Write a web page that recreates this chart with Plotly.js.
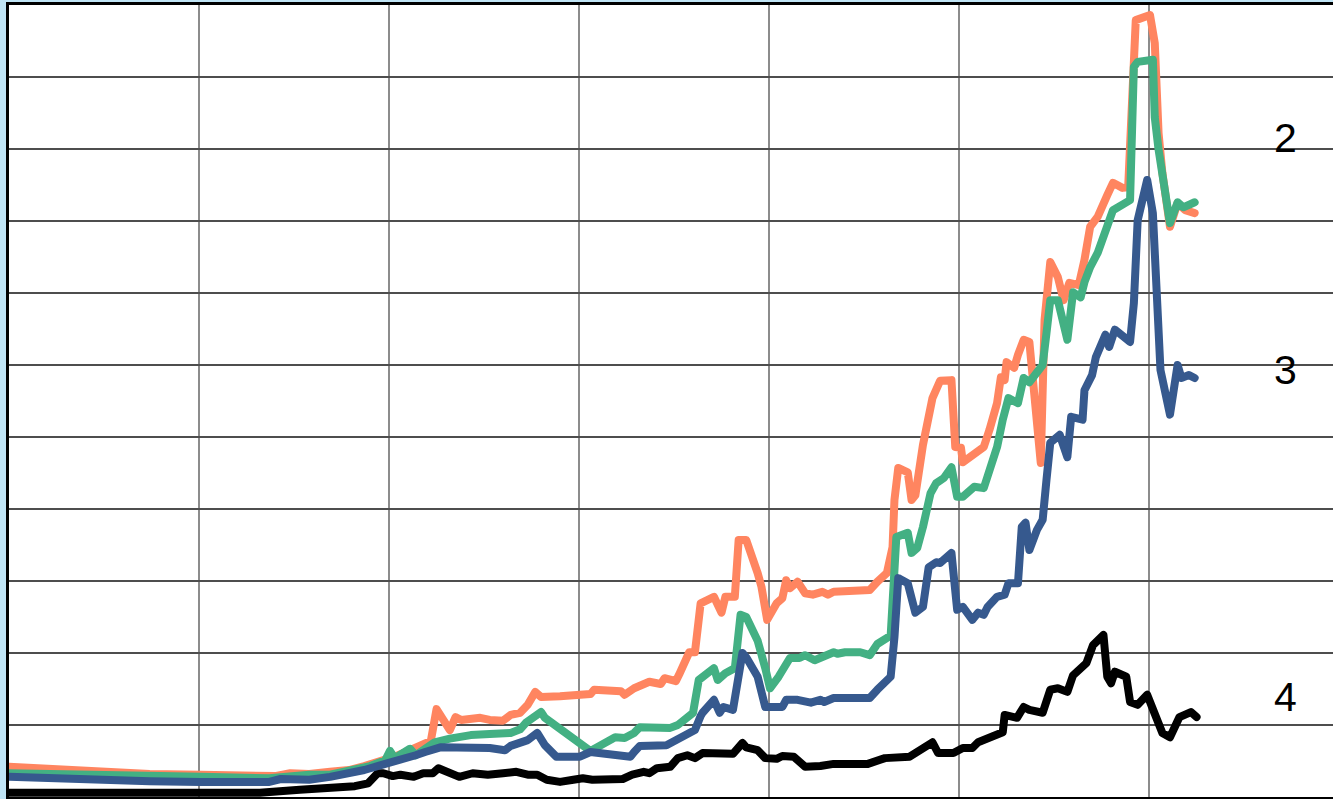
<!DOCTYPE html>
<html>
<head>
<meta charset="utf-8">
<script src="https://cdn.plot.ly/plotly-3.0.1.min.js"></script>
<style>
html,body{margin:0;padding:0;background:#bfe4f5;overflow:hidden;}
#chart{width:1333px;height:799px;}
#chart .js-line{stroke-linejoin:round !important;stroke-linecap:round !important;}
</style>
</head>
<body>
<div id="chart"></div>
<script>
// Series 2 (orange)
var orangeX = [0,1.6,3.7,7.4,10.1,12.7,14.0,14.8,15.8,16.9,
17.9,18.7,19.5,20.3,21.1,21.9,22.2,22.5,22.8,23.2,
23.5,23.8,24.8,25.3,26.0,26.4,26.9,27.3,27.7,28.0,
29.0,30.1,30.6,30.8,31.6,32.2,32.4,32.9,33.7,34.3,
34.5,35.1,35.3,35.6,35.8,36.1,36.4,37.1,37.3,37.5,
37.7,38.2,38.4,38.8,39.4,39.6,39.9,40.4,40.7,40.9,
41.1,41.5,41.9,42.3,42.8,43.1,43.4,44.3,45.3,45.7,
46.2,46.5,46.6,46.8,47.3,47.5,47.7,48.1,48.6,49.0,
49.6,49.8,50.1,50.2,50.7,51.3,51.6,52.0,52.2,52.4,
52.5,52.9,53.1,53.4,53.7,54.0,54.3,54.5,54.8,55.2,
55.5,55.8,56.3,56.6,56.9,57.3,57.6,57.8,58.1,58.6,
58.9,59.3,60.05,60.3,60.5,60.7,61.1,61.5,61.9,62.4];
var orangeY = [4.2,4.0,3.5,3.2,3.1,2.9,2.9,3.3,3.2,3.5,
3.75,4.3,4.9,5.6,6.5,7.5,7.8,12.2,11.0,9.3,
11.1,10.7,11.0,10.7,10.6,11.4,11.7,12.8,14.6,13.9,
14.0,14.3,14.3,14.9,14.9,14.7,14.2,15.1,16.0,15.7,
16.5,16.1,17.2,19.0,20.1,20.1,26.9,27.8,26.4,25.6,
27.8,27.8,35.7,35.7,31.1,29.2,24.6,26.9,27.6,30.1,
29.0,29.9,28.3,28.1,28.5,28.1,28.5,28.6,28.75,29.9,
31.1,34.7,41.25,45.7,45.1,41.25,41.9,48.9,55.4,57.8,
57.9,48.6,48.5,46.5,47.5,48.6,51.0,54.7,58.3,57.9,
60.4,59.6,61.4,63.5,63.2,55.1,46.4,66.25,74.3,72.2,
69.0,71.4,71.1,74.6,79.2,80.6,82.9,83.6,85.3,84.6,
84.7,107.9,108.6,104.7,92.2,86.7,79.2,82.5,81.5,81.1];

// Series (green)
var greenX = [0,3.7,7.4,10.1,13.7,14.8,15.8,16.9,17.9,19.0,
19.8,20.05,20.3,20.8,21.1,21.4,21.9,22.4,23.2,24.3,
25.3,26.4,26.9,27.2,28.0,28.2,30.6,31.4,31.9,32.4,
32.9,33.2,34.3,34.8,35.2,35.5,36.0,36.3,36.6,37.1,
37.3,37.7,38.2,38.5,38.8,39.4,39.8,40.05,40.5,40.8,
41.1,41.6,41.9,42.4,42.95,43.4,43.6,44.0,44.8,45.3,
45.7,46.2,46.4,46.7,47.3,47.5,47.8,48.1,48.5,48.8,
49.2,49.6,49.9,50.2,50.8,51.3,52.0,52.3,52.4,52.6,
53.1,53.3,53.4,53.7,54.4,54.6,54.8,55.2,55.7,56.0,
56.4,56.6,56.9,57.3,57.9,58.1,59.0,59.2,59.4,60.2,
60.3,60.5,61.1,61.5,61.8,62.4];
var greenY = [3.3,3.2,2.9,2.8,2.6,2.9,3.1,3.1,3.6,4.3,
5.1,6.4,5.4,6.1,6.7,5.8,6.8,7.6,8.1,8.6,
8.75,8.9,9.4,10.3,11.8,11.0,6.4,7.6,8.3,8.2,
8.9,9.7,9.7,9.6,10.0,10.7,11.7,16.25,16.8,17.9,
16.25,17.2,17.9,25.3,25.0,21.7,17.9,15.1,16.7,17.9,
19.3,19.3,19.7,19.0,19.6,20.1,19.9,20.1,20.1,19.7,
21.25,22.1,22.4,36.1,36.7,33.9,34.6,37.5,42.2,43.6,
44.3,45.8,41.7,41.7,43.1,42.9,48.6,52.4,53.3,55.4,
54.7,56.8,58.2,57.6,60.0,64.4,69.0,69.0,63.5,70.1,
69.4,71.5,73.6,75.6,79.7,81.5,82.9,101.4,102.1,102.4,
94.4,89.9,79.7,82.6,81.9,82.6];

// Series 3 (blue)
var blueX = [0,3.7,7.4,10.1,13.7,14.3,15.3,15.8,16.9,17.9,
18.7,19.8,20.6,21.4,21.9,22.7,25.3,26.1,26.4,26.9,
27.3,27.8,28.2,28.8,30.05,30.6,31.1,32.2,32.7,32.9,
33.2,34.6,35.1,35.6,36.1,36.4,36.5,37.1,37.4,37.6,
38.1,38.6,38.8,39.4,39.6,39.8,40.7,40.9,41.5,42.2,
42.7,42.9,43.4,45.3,45.7,46.4,46.6,46.8,47.3,47.7,
48.1,48.4,48.8,49.0,49.6,49.9,50.2,50.7,51.0,51.3,
51.5,52.0,52.4,52.6,53.1,53.3,53.5,53.7,54.1,54.4,
54.6,54.8,55.3,55.7,55.9,56.5,56.6,57.0,57.2,57.7,
57.9,58.2,59.0,59.2,59.4,59.9,60.2,60.5,60.6,61.1,
61.3,61.5,61.7,62.1,62.4];
var blueY = [2.8,2.4,2.2,2.1,2.1,2.5,2.6,2.4,2.8,3.2,
3.75,4.6,5.1,5.8,6.25,6.9,6.8,6.5,7.1,7.4,
7.9,8.9,7.2,5.6,5.6,6.25,6.1,5.6,5.6,6.25,
7.1,7.2,7.9,8.6,9.3,11.25,11.7,13.5,11.7,12.5,
12.1,20.0,19.4,16.7,14.9,12.5,12.5,13.5,13.5,13.1,
13.5,13.2,13.75,13.75,14.9,16.7,22.2,30.4,29.7,25.6,
26.4,31.9,32.6,32.5,33.9,26.0,26.4,24.6,25.6,25.3,
26.4,27.8,28.1,29.7,29.7,37.5,38.1,34.3,37.1,38.5,
44.0,49.2,50.3,47.2,52.8,52.4,56.5,58.6,61.1,64.2,
62.5,64.9,63.2,68.6,80.1,85.7,81.1,66.7,59.3,53.1,
57.2,60.0,58.2,58.6,58.2];

// Series 4 (black)
var blackX = [0,13.2,15.3,17.2,18.2,18.9,19.4,19.7,20.2,20.6,
21.3,21.8,22.3,22.6,23.1,23.7,24.4,25.2,26.0,26.7,
27.3,27.8,28.3,29.0,29.7,30.2,30.7,31.8,32.3,32.8,
33.4,33.7,34.1,34.8,35.2,35.7,36.1,36.5,38.1,38.6,
38.8,39.4,39.8,40.4,40.7,41.3,41.6,41.9,42.7,43.4,
45.2,45.7,46.1,47.4,47.9,48.6,48.9,49.7,50.2,50.7,
51.0,51.5,51.9,52.3,52.4,53.05,53.4,53.7,54.4,54.8,
55.2,55.7,56.0,56.5,56.7,57.05,57.6,57.8,58.0,58.2,
58.8,59.0,59.4,59.9,60.4,60.7,61.1,61.6,62.2,62.5];
var blackY = [0.6,0.6,1.0,1.25,1.5,1.9,3.3,3.3,2.9,3.1,
2.8,3.3,3.3,4.0,3.5,2.8,3.3,3.1,3.3,3.5,
3.1,3.1,2.4,2.1,2.4,2.6,2.4,2.4,2.5,3.1,
3.5,3.3,4.0,4.2,5.4,5.8,5.4,6.1,6.0,7.5,
6.9,6.5,5.4,5.3,5.7,5.6,4.9,4.2,4.3,4.6,
4.6,5.0,5.4,5.6,6.5,7.6,6.1,6.1,6.8,6.8,
7.6,8.2,8.6,9.0,11.4,11.0,12.5,12.1,11.7,14.9,
15.1,14.6,16.9,17.9,18.6,21.1,22.5,16.7,15.8,17.4,
16.7,13.2,12.8,14.2,10.7,8.9,8.3,11.1,11.8,11.1];

var seriesLabels = ['2','3','4'];

function line(x, y, color) {
  return {x: x, y: y, type: 'scatter', mode: 'lines',
          line: {color: color, width: 8, shape: 'linear'},
          hoverinfo: 'skip', showlegend: false};
}

var data = [
  line(blackX, blackY, '#000000'),
  line(orangeX, orangeY, '#ff8560'),
  line(greenX, greenY, '#43b083'),
  line(blueX, blueY, '#36598e')
];

var labelY = [91.5, 59.3, 13.9];
var annotations = seriesLabels.map(function(t, i) {
  return {x: 67.2, y: labelY[i], xref: 'x', yref: 'y', text: t, showarrow: false,
          xanchor: 'center', yanchor: 'middle',
          font: {family: 'Liberation Sans, Arial, sans-serif', size: 41, color: '#000'}};
});

var layout = {
  width: 1333, height: 799,
  margin: {l: 9, r: 0, t: 5, b: 2, pad: 0},
  paper_bgcolor: '#bfe4f5',
  plot_bgcolor: '#ffffff',
  showlegend: false,
  xaxis: {range: [0, 69.68], dtick: 10, tick0: 0, showgrid: true, gridcolor: '#8c8c8c', gridwidth: 2,
          zeroline: false, showticklabels: false, ticks: '', showline: true, mirror: true,
          linecolor: '#000', linewidth: 3, fixedrange: true},
  yaxis: {range: [0, 110], dtick: 10, tick0: 0, showgrid: true, gridcolor: '#4d4d4d', gridwidth: 1.5,
          zeroline: false, showticklabels: false, ticks: '', showline: true, mirror: false,
          linecolor: '#000', linewidth: 3, fixedrange: true},
  annotations: annotations
};

Plotly.newPlot('chart', data, layout, {displayModeBar: false, staticPlot: true});
</script>
</body>
</html>
